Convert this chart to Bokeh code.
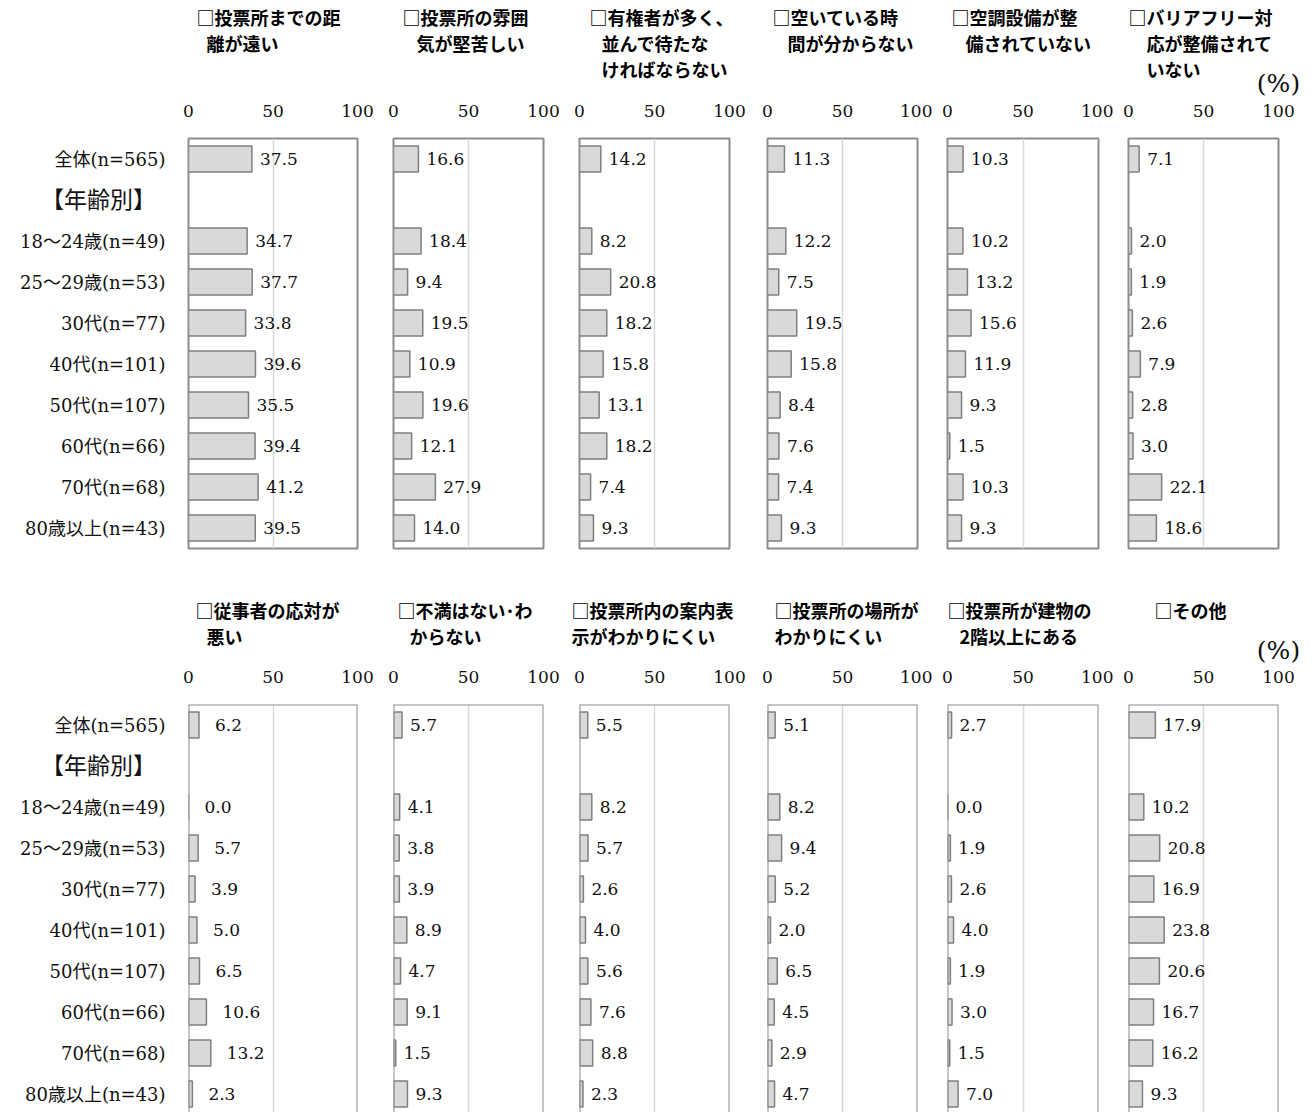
from bokeh.plotting import figure
from bokeh.models import Range1d, FixedTicker, Span, ColumnDataSource, Spacer
from bokeh.layouts import row, column
from bokeh.embed import file_html
from bokeh.resources import INLINE
from bokeh.core.properties import value

# ---------------- data ----------------
categories = ["全体(n=565)", "【年齢別】", "18～24歳(n=49)", "25～29歳(n=53)", "30代(n=77)",
              "40代(n=101)", "50代(n=107)", "60代(n=66)", "70代(n=68)", "80歳以上(n=43)"]
group_label = "【年齢別】"
bar_categories = [c for c in categories if c != group_label]
x_ticks = [0, 50, 100]
unit_label = "(%)"

titles_row1 = [
    ["□投票所までの距", "離が遠い"],
    ["□投票所の雰囲", "気が堅苦しい"],
    ["□有権者が多く、", "並んで待たな", "ければならない"],
    ["□空いている時", "間が分からない"],
    ["□空調設備が整", "備されていない"],
    ["□バリアフリー対", "応が整備されて", "いない"],
]
titles_row2 = [
    ["□従事者の応対が", "悪い"],
    ["□不満はない･わ", "からない"],
    ["□投票所内の案内表", "示がわかりにくい"],
    ["□投票所の場所が", "わかりにくい"],
    ["□投票所が建物の", "2階以上にある"],
    ["□その他"],
]

dist_far        = [37.5, 34.7, 37.7, 33.8, 39.6, 35.5, 39.4, 41.2, 39.5]
stiff_mood      = [16.6, 18.4, 9.4, 19.5, 10.9, 19.6, 12.1, 27.9, 14.0]
long_wait       = [14.2, 8.2, 20.8, 18.2, 15.8, 13.1, 18.2, 7.4, 9.3]
free_time       = [11.3, 12.2, 7.5, 19.5, 15.8, 8.4, 7.6, 7.4, 9.3]
no_aircon       = [10.3, 10.2, 13.2, 15.6, 11.9, 9.3, 1.5, 10.3, 9.3]
no_barrierfree  = [7.1, 2.0, 1.9, 2.6, 7.9, 2.8, 3.0, 22.1, 18.6]
staff_rude      = [6.2, 0.0, 5.7, 3.9, 5.0, 6.5, 10.6, 13.2, 2.3]
no_complaint    = [5.7, 4.1, 3.8, 3.9, 8.9, 4.7, 9.1, 1.5, 9.3]
unclear_signs   = [5.5, 8.2, 5.7, 2.6, 4.0, 5.6, 7.6, 8.8, 2.3]
hard_to_find    = [5.1, 8.2, 9.4, 5.2, 2.0, 6.5, 4.5, 2.9, 4.7]
upper_floor     = [2.7, 0.0, 1.9, 2.6, 4.0, 1.9, 3.0, 1.5, 7.0]
other           = [17.9, 10.2, 20.8, 16.9, 23.8, 20.6, 16.7, 16.2, 9.3]

values_row1 = [dist_far, stiff_mood, long_wait, free_time, no_aircon, no_barrierfree]
values_row2 = [staff_rude, no_complaint, unclear_signs, hard_to_find, upper_floor, other]

# ---------------- style / layout ----------------
SERIF = "DejaVu Serif"
MIXED = "DejaVu Serif, Noto Sans CJK JP"
GOTHIC = "Noto Sans CJK JP"
ROW_PX = 41          # pixels per category row
LINE_PX = 26         # pixels per title line
LAB_W = 182          # width of the category-label column
frame_widths = [169, 150, 150, 150, 151, 150]
left_borders = [6, 18, 18, 19, 15, 15]
right_borders = [18, 18, 19, 15, 15, 30]
title_indents_row1 = [[8, 18], [9, 23], [10, 22, 22], [5, 20], [4, 18], [0, 18, 18]]
title_indents_row2 = [[7, 18], [4, 16], [-8, -8], [7, 7], [0, 12], [26]]
label_offsets_row1 = [8, 8, 8, 8, 8, 8]
label_offsets_row2 = [16, 8, 8, 8, 8, 8]
row_geom = [
    dict(head=100, first_line=16, unit_line=2.58, top=38, frame=410, bottom=20),
    dict(head=98, first_line=41, unit_line=1.58, top=38, frame=408, bottom=0),
]
BAR_FILL = "#d9d9d9"
BAR_LINE = "#7f7f7f"
FRAME = "#8c8c8c"
GRID = "#d9d9d9"
TXT = "#111111"


def panel_x_range(k):
    fw = frame_widths[k]
    return Range1d(-left_borders[k] / fw * 100, 100 + right_borders[k] / fw * 100)


def make_header(r, k, lines, indents):
    g = row_geom[r]
    W = left_borders[k] + frame_widths[k] + right_borders[k]
    h = figure(frame_width=W, frame_height=g["head"], x_range=panel_x_range(k),
               y_range=Range1d((g["head"] - g["first_line"]) / LINE_PX, -g["first_line"] / LINE_PX),
               x_axis_type=None, y_axis_type=None, toolbar_location=None,
               output_backend="svg", title=None, min_border=0,
               background_fill_color="white", border_fill_color="white")
    h.outline_line_color = None
    src = ColumnDataSource(dict(x=[0] * len(lines), y=list(range(len(lines))), t=lines, dx=indents))
    h.text(x="x", y="y", text="t", x_offset="dx", source=src, text_align="left",
           text_baseline="middle", text_font=value(GOTHIC), text_font_size="18px",
           text_font_style="bold", text_color="black")
    if k == 5:
        h.text(x=[100], y=[g["unit_line"]], text=[unit_label], text_align="center",
               text_baseline="middle", text_font=value(SERIF), text_font_size="25px",
               text_color=TXT)
    return h


def make_labels(r):
    g = row_geom[r]
    ystart = -0.5 + g["frame"] / ROW_PX
    p = figure(frame_width=LAB_W, frame_height=g["frame"], x_range=Range1d(0, 1),
               y_range=Range1d(ystart, -0.5), x_axis_type=None, y_axis_type=None,
               toolbar_location=None, output_backend="svg", title=None,
               min_border_left=0, min_border_right=0,
               min_border_top=g["top"], min_border_bottom=g["bottom"],
               background_fill_color="white", border_fill_color="white")
    p.outline_line_color = None
    ys = [categories.index(c) for c in bar_categories]
    src = ColumnDataSource(dict(x=[0.5] * len(ys), y=ys, t=bar_categories))
    p.text(x="x", y="y", text="t", source=src, x_offset=LAB_W / 2 - 17,
           text_align="right", text_baseline="middle",
           text_font=value(MIXED), text_font_size="18px", text_color=TXT)
    p.text(x=[0.5], y=[categories.index(group_label)], text=[group_label], x_offset=7,
           y_offset=-2, text_align="center", text_baseline="middle",
           text_font=value(GOTHIC), text_font_size="23px", text_color=TXT)
    return p


def make_panel(r, k, vals, lab_off):
    g = row_geom[r]
    ystart = -0.5 + g["frame"] / ROW_PX
    p = figure(frame_width=frame_widths[k], frame_height=g["frame"],
               x_range=Range1d(0, 100), y_range=Range1d(ystart, -0.5),
               x_axis_location="above", y_axis_type=None,
               toolbar_location=None, output_backend="svg", title=None,
               min_border_left=left_borders[k], min_border_right=right_borders[k],
               min_border_top=g["top"], min_border_bottom=g["bottom"],
               background_fill_color="white", border_fill_color="white")

    if r == 0:
        p.outline_line_color = FRAME
        p.outline_line_width = 2
    else:
        p.outline_line_color = None
        for loc, dim in ((0, "height"), (100, "height"), (-0.5, "width")):
            p.add_layout(Span(location=loc, dimension=dim, line_color=FRAME, line_width=2))

    ax = p.xaxis[0]
    ax.ticker = FixedTicker(ticks=x_ticks)
    ax.axis_line_color = None
    ax.major_tick_line_color = None
    ax.minor_tick_line_color = None
    ax.major_tick_out = 0
    ax.major_label_standoff = 22
    ax.major_label_text_font = SERIF
    ax.major_label_text_font_size = "17px"
    ax.major_label_text_color = TXT

    p.xgrid.ticker = FixedTicker(ticks=[50])
    p.xgrid.grid_line_color = GRID
    p.xgrid.grid_line_width = 1.5

    ys = [categories.index(c) for c in bar_categories]
    src = ColumnDataSource(dict(y=ys, v=vals, t=[f"{v:.1f}" for v in vals]))
    p.hbar(y="y", left=0, right="v", height=0.63, source=src,
           fill_color=BAR_FILL, line_color=BAR_LINE, line_width=1.5)
    p.text(x="v", y="y", text="t", source=src, x_offset=lab_off,
           text_align="left", text_baseline="middle",
           text_font=value(SERIF), text_font_size="17px", text_color=TXT)
    return p


blocks = []
for r, (tl, ti, vl, lo) in enumerate([(titles_row1, title_indents_row1, values_row1, label_offsets_row1),
                                       (titles_row2, title_indents_row2, values_row2, label_offsets_row2)]):
    heads = [Spacer(width=LAB_W, height=row_geom[r]["head"])] + \
            [make_header(r, k, tl[k], ti[k]) for k in range(6)]
    panels = [make_labels(r)] + [make_panel(r, k, vl[k], lo[k]) for k in range(6)]
    blocks.append(row(*heads))
    blocks.append(row(*panels))

layout = column(*blocks)
open("out.html", "w").write(file_html(layout, INLINE))
